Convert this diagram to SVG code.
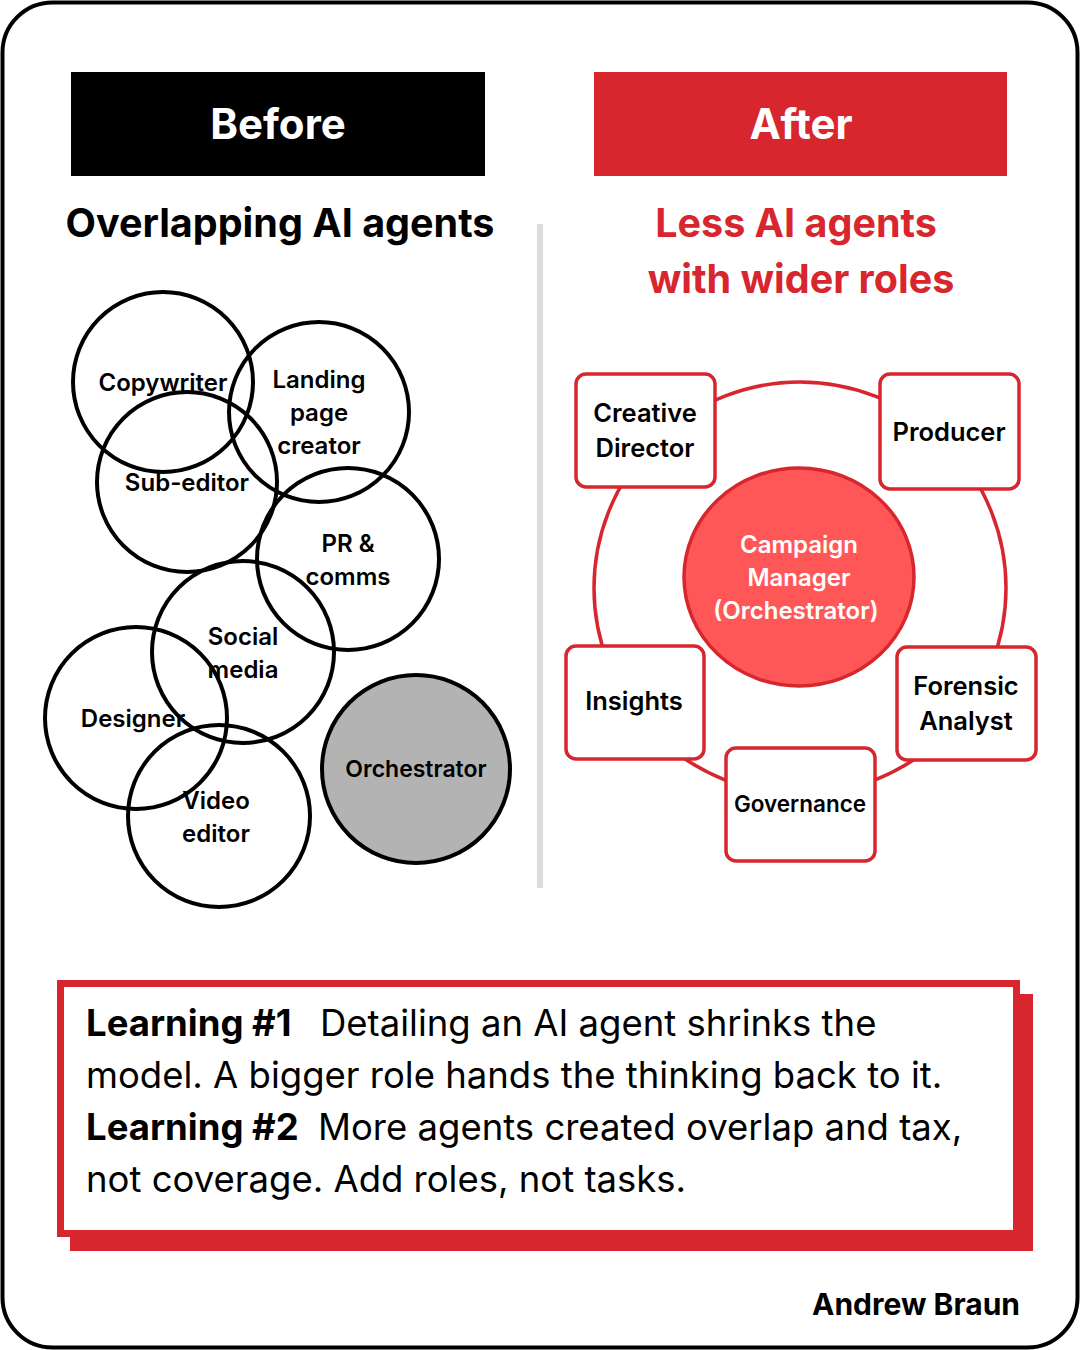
<svg xmlns="http://www.w3.org/2000/svg" width="1080" height="1350" viewBox="0 0 1080 1350">
<style>
text{font-family:Inter,"Noto Sans","Liberation Sans",sans-serif;}
.hdr{font-size:42px;font-weight:700;fill:#fff;text-anchor:middle;}
.sub{font-size:39.5px;font-weight:700;text-anchor:middle;}
.bc{fill:none;stroke:#000;stroke-width:4;}
.bl{font-size:24px;font-weight:600;fill:#000;text-anchor:middle;}
.wl{font-size:24px;font-weight:600;fill:#fff;text-anchor:middle;}
.box{fill:#fff;stroke:#D7262E;stroke-width:3.5;}
.rl{font-size:25.5px;font-weight:600;fill:#000;text-anchor:middle;}
.body{font-size:36.5px;font-weight:400;fill:#000;}
.b{font-weight:700;}
.red{fill:#D7262E;}
</style>
<rect x="0" y="0" width="1080" height="1350" fill="#fff"/>
<rect x="2.5" y="2.5" width="1075" height="1345" rx="50" fill="#fff" stroke="#000" stroke-width="4"/>

<g id="before-header">
<rect x="71" y="72" width="414" height="104" fill="#000"/>
<text class="hdr" x="278" y="139">Before</text>
</g>
<g id="after-header">
<rect x="594" y="72" width="413" height="104" class="red"/>
<text class="hdr" x="801" y="139">After</text>
</g>
<text class="sub" x="280" y="237" fill="#000">Overlapping AI agents</text>
<text class="sub red" x="796" y="237">Less AI agents</text>
<text class="sub red" x="801" y="293">with wider roles</text>
<line x1="540" y1="224" x2="540" y2="888" stroke="#DDDDDD" stroke-width="6"/>

<g id="before-agents">
<g id="copywriter"><circle class="bc" cx="163" cy="382" r="90"/><text class="bl" x="163" y="391">Copywriter</text></g>
<g id="landing-page"><circle class="bc" cx="319" cy="412" r="90"/><text class="bl" x="319" y="388">Landing</text><text class="bl" x="319" y="421">page</text><text class="bl" x="319" y="454">creator</text></g>
<g id="sub-editor"><circle class="bc" cx="187" cy="482" r="90"/><text class="bl" x="187" y="491">Sub-editor</text></g>
<g id="pr-comms"><circle class="bc" cx="348" cy="559" r="91"/><text class="bl" x="348" y="552">PR &amp;</text><text class="bl" x="348" y="585">comms</text></g>
<g id="social-media"><circle class="bc" cx="243" cy="652" r="91"/><text class="bl" x="243" y="645">Social</text><text class="bl" x="243" y="678">media</text></g>
<g id="designer"><circle class="bc" cx="136" cy="718" r="91"/><text class="bl" x="133" y="727">Designer</text></g>
<g id="video-editor"><circle class="bc" cx="219" cy="816" r="91"/><text class="bl" x="216" y="809">Video</text><text class="bl" x="216" y="842">editor</text></g>
<g id="orchestrator"><circle cx="416" cy="769" r="94" fill="#B3B3B3" stroke="#000" stroke-width="4"/><text class="bl" x="416" y="777" style="font-size:23px">Orchestrator</text></g>
</g>

<g id="connectors">
<circle cx="800" cy="588" r="206" fill="none" stroke="#D7262E" stroke-width="3.5"/>
</g>

<g id="campaign-manager">
<ellipse cx="799" cy="577" rx="115" ry="109" fill="#FF5757" stroke="#D7262E" stroke-width="3.5"/>
<text class="wl" x="799" y="553">Campaign</text>
<text class="wl" x="799" y="586">Manager</text>
<text class="wl" x="796" y="619">(Orchestrator)</text>
</g>
<g id="creative-director"><rect class="box" x="576" y="374" width="139" height="113" rx="10"/><text class="rl" x="645" y="422">Creative</text><text class="rl" x="645" y="457">Director</text></g>
<g id="producer"><rect class="box" x="880" y="374" width="139" height="115" rx="10"/><text class="rl" x="949" y="441">Producer</text></g>
<g id="insights"><rect class="box" x="566" y="646" width="138" height="113" rx="10"/><text class="rl" x="634" y="710">Insights</text></g>
<g id="forensic-analyst"><rect class="box" x="897" y="647" width="139" height="113" rx="10"/><text class="rl" x="966" y="695">Forensic</text><text class="rl" x="966" y="730">Analyst</text></g>
<g id="governance"><rect class="box" x="726" y="748" width="149" height="113" rx="10"/><text class="rl" x="800" y="812" style="font-size:22.5px">Governance</text></g>

<g id="learnings">
<rect x="70" y="994" width="963" height="257" class="red"/>
<rect x="60.5" y="983.5" width="956" height="250" fill="#fff" stroke="#D7262E" stroke-width="7"/>
<text class="body" x="86" y="1036"><tspan class="b">Learning #1</tspan><tspan x="320">Detailing an AI agent shrinks the</tspan></text>
<text class="body" x="86" y="1088">model. A bigger role hands the thinking back to it.</text>
<text class="body" x="86" y="1140"><tspan class="b">Learning #2</tspan><tspan x="318">More agents created overlap and tax,</tspan></text>
<text class="body" x="86" y="1192">not coverage. Add roles, not tasks.</text>
</g>
<text x="1020" y="1315" style="font-size:30px;font-weight:700;text-anchor:end">Andrew Braun</text>
</svg>
